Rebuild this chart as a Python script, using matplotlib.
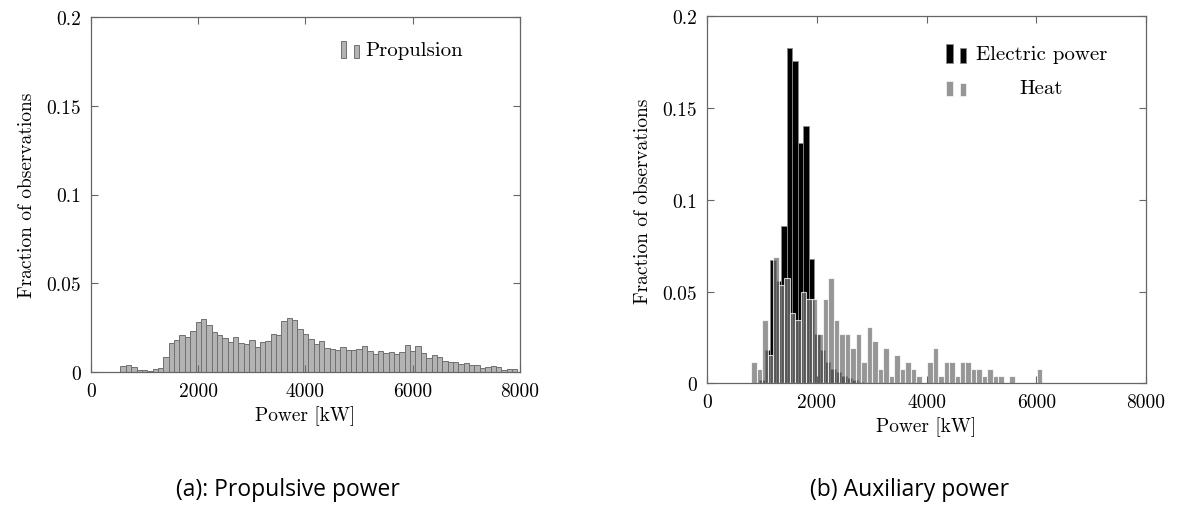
import matplotlib
matplotlib.use('Agg')
from matplotlib import pyplot as plt
from matplotlib.patches import Rectangle
import numpy as np

# ---- data ----
prop_start = 0
prop_vals = [0, 0, 0, 0, 0, 0,
             0.0032, 0.0039, 0.0030, 0.0011, 0.0011, 0.0006, 0.0017, 0.0024, 0.0084, 0.0163,
             0.0178, 0.0206, 0.0195, 0.0229, 0.0279, 0.0298, 0.0266, 0.0225, 0.0206, 0.0191,
             0.0170, 0.0197, 0.0163, 0.0156, 0.0182, 0.0141, 0.0170, 0.0176, 0.0215, 0.0210,
             0.0290, 0.0307, 0.0292, 0.0242, 0.0215, 0.0185, 0.0157, 0.0172, 0.0137, 0.0129,
             0.0122, 0.0139, 0.0126, 0.0126, 0.0131, 0.0148, 0.0118, 0.0103, 0.0118, 0.0107,
             0.0114, 0.0099, 0.0112, 0.0152, 0.0116, 0.0146, 0.0107, 0.0081, 0.0097, 0.0083,
             0.0064, 0.0056, 0.0056, 0.0043, 0.0052, 0.0039, 0.0041, 0.0022, 0.0030, 0.0034,
             0.0030, 0.0013, 0.0017, 0.0017]

elec_start = 0
elec_vals = [0, 0, 0, 0, 0, 0, 0, 0, 0, 0,
             0.002, 0.018, 0.067, 0.056, 0.0855, 0.183, 0.1756, 0.131, 0.140, 0.068,
             0.027, 0.018, 0.0115, 0.008, 0.006, 0.004, 0.003, 0.002, 0.001]

heat_start = 860
heat_vals = [0.0115, 0.0077, 0.0345, 0.0153, 0.0690, 0.0536, 0.0575, 0.0383, 0.0345, 0.0498,
             0.0460, 0.0460, 0.0268, 0.0460, 0.0575, 0.0345, 0.0268, 0.0268, 0.0192, 0.0268,
             0.0115, 0.0307, 0.0230, 0.0077, 0.0192, 0.0038, 0.0153, 0.0077, 0.0115, 0.0077,
             0.0038, 0, 0.0115, 0.0192, 0.0038, 0.0115, 0.0115, 0.0038, 0.0115, 0.0115,
             0.0077, 0.0077, 0.0038, 0.0077, 0.0038, 0.0038, 0, 0.0038, 0, 0,
             0, 0, 0.0077]

bin_w = 100
xticks = [0, 2000, 4000, 6000, 8000]
yticks = [0, 0.05, 0.1, 0.15, 0.2]
ytick_labels = ['0', '0.05', '0.1', '0.15', '0.2']
captions = ['(a): Propulsive power', '(b) Auxiliary power']

plt.rcParams['font.family'] = 'cmr10'
plt.rcParams['axes.unicode_minus'] = False
plt.rcParams['axes.formatter.use_mathtext'] = True

fig = plt.figure(figsize=(11.77, 5.10), dpi=100)
ax1 = fig.add_axes([0.0773, 0.2686, 0.3645, 0.6961])
ax2 = fig.add_axes([0.6007, 0.2463, 0.3730, 0.7197])


def style(ax):
    ax.set_xlim(0, 8000)
    ax.set_ylim(0, 0.2)
    ax.set_xticks(xticks)
    ax.set_xticklabels([str(t) for t in xticks])
    ax.set_yticks(yticks)
    ax.set_yticklabels(ytick_labels)
    ax.tick_params(direction='in', top=True, right=True, length=5, width=0.8,
                   color='#666666', labelsize=14, pad=7)
    for s in ax.spines.values():
        s.set_color('#666666')
        s.set_linewidth(0.9)
    ax.set_xlabel('Power [kW]', fontsize=14, labelpad=4)
    ax.set_ylabel('Fraction of observations', fontsize=14, labelpad=8)


def bars_at(start, vals):
    return start + bin_w * np.arange(len(vals))


# (a) propulsion
ax1.bar(bars_at(prop_start, prop_vals), prop_vals, width=bin_w,
        color='#b3b3b3', edgecolor='#707070', linewidth=0.7)
style(ax1)
ax1.add_patch(Rectangle((0.582, 0.885), 0.013, 0.048, transform=ax1.transAxes,
                        facecolor='#b3b3b3', edgecolor='#707070', lw=0.7))
ax1.add_patch(Rectangle((0.612, 0.885), 0.013, 0.037, transform=ax1.transAxes,
                        facecolor='#b3b3b3', edgecolor='#707070', lw=0.7))
ax1.text(0.64, 0.907, 'Propulsion', transform=ax1.transAxes, fontsize=15,
         ha='left', va='center')

# (b) auxiliary
ax2.bar(bars_at(elec_start, elec_vals), elec_vals, width=bin_w,
        color='black', edgecolor='#8a8a8a', linewidth=0.6)
ax2.bar(bars_at(heat_start, heat_vals), heat_vals, width=bin_w,
        color='#737373', alpha=0.75, edgecolor='white', linewidth=0.8)
style(ax2)
ax2.add_patch(Rectangle((0.545, 0.873), 0.015, 0.051, transform=ax2.transAxes,
                        facecolor='black', edgecolor='#8a8a8a', lw=0.6))
ax2.add_patch(Rectangle((0.577, 0.873), 0.013, 0.041, transform=ax2.transAxes,
                        facecolor='black', edgecolor='#8a8a8a', lw=0.6))
ax2.add_patch(Rectangle((0.545, 0.782), 0.015, 0.041, transform=ax2.transAxes,
                        facecolor='#737373', alpha=0.75, edgecolor='white', lw=0.6))
ax2.add_patch(Rectangle((0.577, 0.782), 0.013, 0.036, transform=ax2.transAxes,
                        facecolor='#737373', alpha=0.75, edgecolor='white', lw=0.6))
ax2.text(0.762, 0.897, 'Electric power', transform=ax2.transAxes, fontsize=15,
         ha='center', va='center')
ax2.text(0.762, 0.805, 'Heat', transform=ax2.transAxes, fontsize=15,
         ha='center', va='center')

fig.text(0.245, 0.04, captions[0], fontsize=16.5, family='Open Sans', ha='center', va='center')
fig.text(0.773, 0.04, captions[1], fontsize=16.5, family='Open Sans', ha='center', va='center')

fig.savefig('out.png', dpi=100)
